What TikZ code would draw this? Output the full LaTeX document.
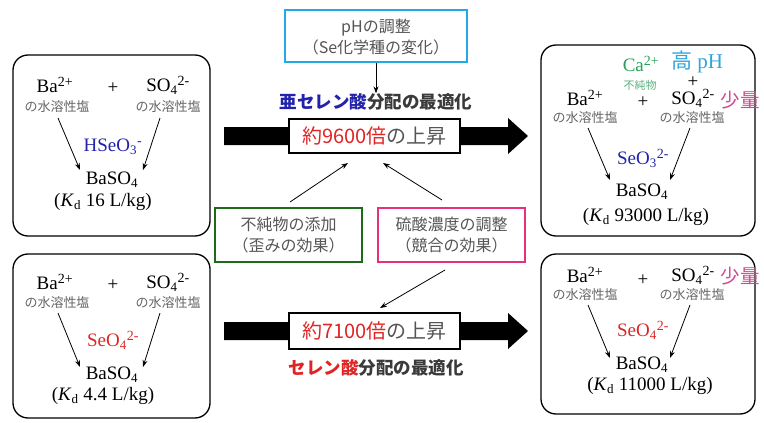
\documentclass[tikz,border=0pt]{standalone}
\usepackage{fontspec}
\setmainfont{Liberation Serif}
\newfontfamily\jpf{Noto Sans CJK JP}
\usetikzlibrary{arrows.meta}
\definecolor{jgray}{HTML}{555555}
\definecolor{hgray}{HTML}{3A3A3A}
\definecolor{sgray}{HTML}{666666}
\definecolor{seblue}{HTML}{2222AA}
\definecolor{sered}{HTML}{E02424}
\definecolor{boxgreen}{HTML}{1B6B1B}
\definecolor{boxpink}{HTML}{E8307A}
\definecolor{boxcyan}{HTML}{22AAE2}
\definecolor{cagreen}{HTML}{2AA05A}
\definecolor{impgreen}{HTML}{5AB080}
\definecolor{phcyan}{HTML}{30A4DC}
\definecolor{lesspink}{HTML}{D04A90}
\newcommand\supx[1]{\textsuperscript{\fontsize{14}{14}\selectfont #1}}
\newcommand\subx[1]{\textsubscript{\fontsize{13}{13}\selectfont #1}}
\begin{document}
\begin{tikzpicture}[x=1pt,y=-1pt,
  chem/.style={font=\fontsize{19}{21}\selectfont, inner sep=0pt},
  salt/.style={font=\jpf\fontsize{13}{14}\selectfont, text=sgray, inner sep=0pt},
  rbox/.style={draw, line width=1.3pt, rounded corners=15pt, inner sep=0pt},
  sbox/.style={draw, line width=2.5pt, inner sep=0pt, fill=white},
  arr/.style={-{Stealth[length=7pt,width=5pt]}, line width=0.8pt},
  lab/.style={font=\jpf\fontsize{16}{21}\selectfont, text=jgray, align=center, inner sep=0pt},
  head/.style={font=\jpf\bfseries\fontsize{17.5}{20}\selectfont, text=hgray, inner sep=0pt},
  big/.style={font=\jpf\fontsize{20}{22}\selectfont, text=jgray, inner sep=0pt},
  less/.style={text=lesspink, font=\jpf\fontsize{19.5}{21}\selectfont, inner sep=0pt},
  bigarrow/.style={fill=black}
]
\useasboundingbox (0,0) rectangle (764,423);

% ---------- rounded boxes ----------
\node[rbox, minimum width=197pt, minimum height=181pt] (tl) at (111.5,145.5) {};
\node[rbox, minimum width=197pt, minimum height=164pt] (bl) at (111.5,336) {};
\node[rbox, minimum width=214pt, minimum height=191pt] (tr) at (648,140.5) {};
\node[rbox, minimum width=214pt, minimum height=160pt] (br) at (648,334) {};

% ---------- top-left box ----------
\node[chem] (tlba) at (55,85) {Ba\supx{2+}};
\node[chem] (tlplus) at (113,88) {+};
\node[chem] (tlso) at (168,85) {SO\subx{4}\supx{2-}};
\node[salt] (tlsa) at (57,107) {の水溶性塩};
\node[salt] (tlsb) at (168,107) {の水溶性塩};
\node[chem, text=seblue] (tlse) at (113,147) {HSeO\subx{3}\supx{-}};
\node[chem] (tlbaso) at (112,180) {BaSO\subx{4}};
\node[chem] (tlkd) at (103,202) {(\textit{K}\subx{d} 16 L/kg)};
\coordinate (tla1) at (58,118); \coordinate (tla2) at (80,170);
\coordinate (tlb1) at (160,118); \coordinate (tlb2) at (143,170);
\draw[arr] (tla1) -- (tla2);
\draw[arr] (tlb1) -- (tlb2);

% ---------- bottom-left box ----------
\node[chem] (blba) at (55,282) {Ba\supx{2+}};
\node[chem] (blplus) at (113,285) {+};
\node[chem] (blso) at (168,282) {SO\subx{4}\supx{2-}};
\node[salt] (blsa) at (57,303) {の水溶性塩};
\node[salt] (blsb) at (168,303) {の水溶性塩};
\node[chem, text=sered] (blse) at (113,340) {SeO\subx{4}\supx{2-}};
\node[chem] (blbaso) at (112,375) {BaSO\subx{4}};
\node[chem] (blkd) at (103,396) {(\textit{K}\subx{d} 4.4 L/kg)};
\coordinate (bla1) at (58,313); \coordinate (bla2) at (80,367);
\coordinate (blb1) at (160,313); \coordinate (blb2) at (143,367);
\draw[arr] (bla1) -- (bla2);
\draw[arr] (blb1) -- (blb2);

% ---------- top-right box ----------
\node[chem, text=cagreen] (trca) at (641,64) {Ca\supx{2+}};
\node[chem, text=phcyan, font=\fontsize{21}{22}\selectfont] (trph) at (697,62) {{\jpf 高} pH};
\node[chem] (trplus2) at (693,82) {+};
\node[salt, text=impgreen, font=\jpf\fontsize{11}{12}\selectfont] (trimp) at (640,85) {不純物};
\node[chem] (trba) at (585,98) {Ba\supx{2+}};
\node[chem] (trplus) at (643,102) {+};
\node[chem] (trso) at (693,98) {SO\subx{4}\supx{2-}};
\node[less] (trless) at (740,100) {少量};
\node[salt] (trsa) at (585,118) {の水溶性塩};
\node[salt] (trsb) at (692,118) {の水溶性塩};
\node[chem, text=seblue] (trse) at (643,158) {SeO\subx{3}\supx{2-}};
\node[chem] (trbaso) at (642,192) {BaSO\subx{4}};
\node[chem] (trkd) at (646,217) {(\textit{K}\subx{d} 93000 L/kg)};
\coordinate (tra1) at (588,128); \coordinate (tra2) at (610,180);
\coordinate (trb1) at (690,128); \coordinate (trb2) at (670,180);
\draw[arr] (tra1) -- (tra2);
\draw[arr] (trb1) -- (trb2);

% ---------- bottom-right box ----------
\node[chem] (brba) at (585,275) {Ba\supx{2+}};
\node[chem] (brplus) at (643,280) {+};
\node[chem] (brso) at (693,275) {SO\subx{4}\supx{2-}};
\node[less] (brless) at (740,276) {少量};
\node[salt] (brsa) at (585,295) {の水溶性塩};
\node[salt] (brsb) at (692,295) {の水溶性塩};
\node[chem, text=sered] (brse) at (643,330) {SeO\subx{4}\supx{2-}};
\node[chem] (brbaso) at (642,365) {BaSO\subx{4}};
\node[chem] (brkd) at (650,386) {(\textit{K}\subx{d} 11000 L/kg)};
\coordinate (bra1) at (588,305); \coordinate (bra2) at (610,358);
\coordinate (brb1) at (690,305); \coordinate (brb2) at (670,358);
\draw[arr] (bra1) -- (bra2);
\draw[arr] (brb1) -- (brb2);

% ---------- pH box ----------
\node[sbox, draw=boxcyan, minimum width=182pt, minimum height=52pt] (phbox) at (376,36) {};
\node[lab] (phtext) at (376,37) {pHの調整\\（Se化学種の変化）};
\node[head] (optup) at (376,102) {{\color{seblue}亜セレン酸}分配の最適化};
\draw[arr] (phbox.south) -- (optup.north);

% ---------- big arrows ----------
\fill[bigarrow] (224,127) -- (508,127) -- (508,118) -- (528,136) -- (508,154) -- (508,145) -- (224,145) -- cycle;
\node[sbox, minimum width=171pt, minimum height=34pt] (upbox) at (374.5,136) {};
\node[big] (uptext) at (374.5,136) {{\color{sered}約9600倍}の上昇};

\fill[bigarrow] (224,322) -- (508,322) -- (508,313) -- (528,331) -- (508,349) -- (508,340) -- (224,340) -- cycle;
\node[sbox, minimum width=171pt, minimum height=36pt] (lowbox) at (374.5,331) {};
\node[big] (lowtext) at (374.5,331) {{\color{sered}約7100倍}の上昇};
\node[head] (optlow) at (376,368) {{\color{sered}セレン酸}分配の最適化};

% ---------- factor boxes ----------
\node[sbox, draw=boxgreen, minimum width=147pt, minimum height=54pt] (gbox) at (288.5,235) {};
\node[lab] (gtext) at (288.5,235) {不純物の添加\\（歪みの効果）};
\node[sbox, draw=boxpink, minimum width=147pt, minimum height=54pt] (pbox) at (451.5,235) {};
\node[lab] (ptext) at (451.5,235) {硫酸濃度の調整\\（競合の効果）};

\coordinate (g1) at (290,202); \coordinate (g2) at (348,163);
\coordinate (p1) at (442,200); \coordinate (p2) at (383,163);
\coordinate (q1) at (445,270); \coordinate (q2) at (380,308);
\draw[arr] (g1) -- (g2);
\draw[arr] (p1) -- (p2);
\draw[arr] (q1) -- (q2);
\end{tikzpicture}
\end{document}
